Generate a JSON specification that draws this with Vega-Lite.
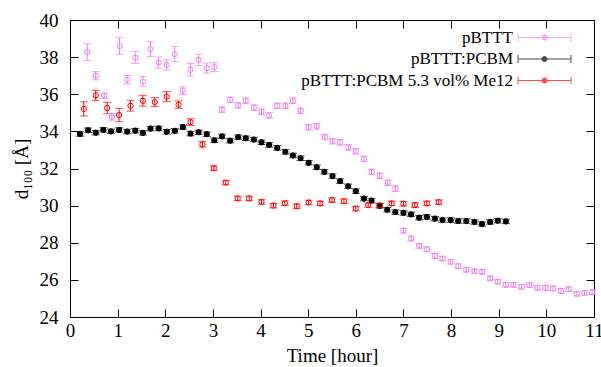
{
  "$schema": "https://vega.github.io/schema/vega-lite/v6.json",
  "width": 524,
  "height": 297,
  "autosize": {"type": "none"},
  "padding": {"left": 70, "top": 20, "right": 7, "bottom": 50},
  "background": "white",
  "config": {
    "view": {"stroke": "black", "strokeWidth": 1},
    "font": "'Liberation Serif', 'Times New Roman', serif",
    "style": {
      "guide-label": {"font": "'Liberation Serif', 'Times New Roman', serif", "fontSize": 19, "fill": "black"},
      "guide-title": {"font": "'Liberation Serif', 'Times New Roman', serif", "fontSize": 19, "fill": "black", "fontWeight": "normal"}
    },
    "axis": {
      "grid": false, "domain": false, "tickColor": "black", "tickWidth": 1,
      "labelColor": "black", "titleColor": "black", "labelFont": "'Liberation Serif', 'Times New Roman', serif",
      "titleFont": "'Liberation Serif', 'Times New Roman', serif", "labelFontSize": 19, "titleFontSize": 19,
      "titleFontWeight": "normal", "labelFlush": false, "labelOverlap": false
    },
    "legend": {
      "orient": "none", "legendX": 465, "legendY": 8, "padding": 0,
      "title": null,
      "symbolSize": 300, "symbolStrokeWidth": 1,
      "labelAlign": "right", "labelOffset": -41, "labelFontSize": 17,
      "labelFont": "'Liberation Serif', 'Times New Roman', serif", "labelColor": "black", "labelLimit": 400,
      "rowPadding": 3.5
    }
  },
  "data": {"values": [
    {"s": "pBTTT", "t": 0.36, "d": 38.27, "e": 0.45},
    {"s": "pBTTT", "t": 0.54, "d": 37.00, "e": 0.22},
    {"s": "pBTTT", "t": 0.72, "d": 35.92, "e": 0.15},
    {"s": "pBTTT", "t": 0.88, "d": 34.78, "e": 0.18},
    {"s": "pBTTT", "t": 1.04, "d": 38.60, "e": 0.45},
    {"s": "pBTTT", "t": 1.20, "d": 36.78, "e": 0.23},
    {"s": "pBTTT", "t": 1.37, "d": 37.98, "e": 0.32},
    {"s": "pBTTT", "t": 1.53, "d": 36.69, "e": 0.26},
    {"s": "pBTTT", "t": 1.69, "d": 38.43, "e": 0.40},
    {"s": "pBTTT", "t": 1.86, "d": 37.71, "e": 0.30},
    {"s": "pBTTT", "t": 2.03, "d": 37.58, "e": 0.27},
    {"s": "pBTTT", "t": 2.20, "d": 38.16, "e": 0.41},
    {"s": "pBTTT", "t": 2.37, "d": 36.19, "e": 0.21},
    {"s": "pBTTT", "t": 2.53, "d": 37.32, "e": 0.34},
    {"s": "pBTTT", "t": 2.70, "d": 37.85, "e": 0.30},
    {"s": "pBTTT", "t": 2.87, "d": 37.41, "e": 0.27},
    {"s": "pBTTT", "t": 3.03, "d": 37.46, "e": 0.24},
    {"s": "pBTTT", "t": 3.19, "d": 35.17, "e": 0.15},
    {"s": "pBTTT", "t": 3.36, "d": 35.70, "e": 0.15},
    {"s": "pBTTT", "t": 3.53, "d": 35.40, "e": 0.15},
    {"s": "pBTTT", "t": 3.69, "d": 35.65, "e": 0.15},
    {"s": "pBTTT", "t": 3.86, "d": 35.28, "e": 0.15},
    {"s": "pBTTT", "t": 4.02, "d": 35.06, "e": 0.15},
    {"s": "pBTTT", "t": 4.18, "d": 34.86, "e": 0.15},
    {"s": "pBTTT", "t": 4.35, "d": 35.38, "e": 0.15},
    {"s": "pBTTT", "t": 4.52, "d": 35.38, "e": 0.15},
    {"s": "pBTTT", "t": 4.68, "d": 35.65, "e": 0.15},
    {"s": "pBTTT", "t": 4.84, "d": 35.11, "e": 0.15},
    {"s": "pBTTT", "t": 5.01, "d": 34.22, "e": 0.15},
    {"s": "pBTTT", "t": 5.18, "d": 34.27, "e": 0.15},
    {"s": "pBTTT", "t": 5.35, "d": 33.70, "e": 0.15},
    {"s": "pBTTT", "t": 5.51, "d": 33.47, "e": 0.15},
    {"s": "pBTTT", "t": 5.67, "d": 33.41, "e": 0.15},
    {"s": "pBTTT", "t": 5.84, "d": 33.14, "e": 0.15},
    {"s": "pBTTT", "t": 6.00, "d": 32.93, "e": 0.15},
    {"s": "pBTTT", "t": 6.17, "d": 32.52, "e": 0.15},
    {"s": "pBTTT", "t": 6.33, "d": 31.82, "e": 0.15},
    {"s": "pBTTT", "t": 6.50, "d": 31.61, "e": 0.15},
    {"s": "pBTTT", "t": 6.67, "d": 31.23, "e": 0.15},
    {"s": "pBTTT", "t": 6.83, "d": 30.91, "e": 0.15},
    {"s": "pBTTT", "t": 7.00, "d": 28.65, "e": 0.13},
    {"s": "pBTTT", "t": 7.16, "d": 28.23, "e": 0.13},
    {"s": "pBTTT", "t": 7.33, "d": 27.83, "e": 0.13},
    {"s": "pBTTT", "t": 7.49, "d": 27.65, "e": 0.13},
    {"s": "pBTTT", "t": 7.66, "d": 27.30, "e": 0.13},
    {"s": "pBTTT", "t": 7.82, "d": 27.15, "e": 0.12},
    {"s": "pBTTT", "t": 7.99, "d": 26.97, "e": 0.12},
    {"s": "pBTTT", "t": 8.15, "d": 26.74, "e": 0.12},
    {"s": "pBTTT", "t": 8.32, "d": 26.54, "e": 0.12},
    {"s": "pBTTT", "t": 8.49, "d": 26.47, "e": 0.12},
    {"s": "pBTTT", "t": 8.65, "d": 26.43, "e": 0.12},
    {"s": "pBTTT", "t": 8.82, "d": 26.09, "e": 0.12},
    {"s": "pBTTT", "t": 8.98, "d": 25.90, "e": 0.12},
    {"s": "pBTTT", "t": 9.15, "d": 25.73, "e": 0.12},
    {"s": "pBTTT", "t": 9.31, "d": 25.73, "e": 0.12},
    {"s": "pBTTT", "t": 9.48, "d": 25.63, "e": 0.12},
    {"s": "pBTTT", "t": 9.64, "d": 25.72, "e": 0.12},
    {"s": "pBTTT", "t": 9.81, "d": 25.57, "e": 0.12},
    {"s": "pBTTT", "t": 9.98, "d": 25.57, "e": 0.12},
    {"s": "pBTTT", "t": 10.14, "d": 25.54, "e": 0.12},
    {"s": "pBTTT", "t": 10.31, "d": 25.41, "e": 0.12},
    {"s": "pBTTT", "t": 10.47, "d": 25.50, "e": 0.12},
    {"s": "pBTTT", "t": 10.64, "d": 25.25, "e": 0.12},
    {"s": "pBTTT", "t": 10.80, "d": 25.29, "e": 0.12},
    {"s": "pBTTT", "t": 10.96, "d": 25.33, "e": 0.12},
    {"s": "pBTTT:PCBM", "t": 0.21, "d": 33.86, "e": 0.12},
    {"s": "pBTTT:PCBM", "t": 0.38, "d": 34.06, "e": 0.12},
    {"s": "pBTTT:PCBM", "t": 0.54, "d": 33.93, "e": 0.12},
    {"s": "pBTTT:PCBM", "t": 0.70, "d": 34.08, "e": 0.12},
    {"s": "pBTTT:PCBM", "t": 0.86, "d": 34.00, "e": 0.12},
    {"s": "pBTTT:PCBM", "t": 1.03, "d": 34.08, "e": 0.12},
    {"s": "pBTTT:PCBM", "t": 1.20, "d": 33.99, "e": 0.12},
    {"s": "pBTTT:PCBM", "t": 1.37, "d": 34.04, "e": 0.12},
    {"s": "pBTTT:PCBM", "t": 1.53, "d": 33.92, "e": 0.12},
    {"s": "pBTTT:PCBM", "t": 1.69, "d": 34.15, "e": 0.12},
    {"s": "pBTTT:PCBM", "t": 1.86, "d": 34.16, "e": 0.12},
    {"s": "pBTTT:PCBM", "t": 2.03, "d": 33.98, "e": 0.12},
    {"s": "pBTTT:PCBM", "t": 2.20, "d": 34.03, "e": 0.12},
    {"s": "pBTTT:PCBM", "t": 2.37, "d": 34.23, "e": 0.12},
    {"s": "pBTTT:PCBM", "t": 2.53, "d": 33.88, "e": 0.12},
    {"s": "pBTTT:PCBM", "t": 2.70, "d": 33.95, "e": 0.12},
    {"s": "pBTTT:PCBM", "t": 2.87, "d": 33.85, "e": 0.12},
    {"s": "pBTTT:PCBM", "t": 3.03, "d": 33.52, "e": 0.12},
    {"s": "pBTTT:PCBM", "t": 3.19, "d": 33.73, "e": 0.12},
    {"s": "pBTTT:PCBM", "t": 3.36, "d": 33.50, "e": 0.12},
    {"s": "pBTTT:PCBM", "t": 3.53, "d": 33.69, "e": 0.12},
    {"s": "pBTTT:PCBM", "t": 3.69, "d": 33.63, "e": 0.12},
    {"s": "pBTTT:PCBM", "t": 3.86, "d": 33.56, "e": 0.12},
    {"s": "pBTTT:PCBM", "t": 4.02, "d": 33.41, "e": 0.12},
    {"s": "pBTTT:PCBM", "t": 4.18, "d": 33.27, "e": 0.12},
    {"s": "pBTTT:PCBM", "t": 4.35, "d": 33.11, "e": 0.12},
    {"s": "pBTTT:PCBM", "t": 4.52, "d": 32.90, "e": 0.12},
    {"s": "pBTTT:PCBM", "t": 4.68, "d": 32.70, "e": 0.12},
    {"s": "pBTTT:PCBM", "t": 4.84, "d": 32.55, "e": 0.12},
    {"s": "pBTTT:PCBM", "t": 5.01, "d": 32.31, "e": 0.12},
    {"s": "pBTTT:PCBM", "t": 5.18, "d": 32.07, "e": 0.12},
    {"s": "pBTTT:PCBM", "t": 5.34, "d": 31.82, "e": 0.12},
    {"s": "pBTTT:PCBM", "t": 5.51, "d": 31.59, "e": 0.12},
    {"s": "pBTTT:PCBM", "t": 5.67, "d": 31.32, "e": 0.12},
    {"s": "pBTTT:PCBM", "t": 5.84, "d": 31.04, "e": 0.12},
    {"s": "pBTTT:PCBM", "t": 6.00, "d": 30.78, "e": 0.12},
    {"s": "pBTTT:PCBM", "t": 6.17, "d": 30.38, "e": 0.12},
    {"s": "pBTTT:PCBM", "t": 6.33, "d": 30.27, "e": 0.12},
    {"s": "pBTTT:PCBM", "t": 6.50, "d": 29.99, "e": 0.12},
    {"s": "pBTTT:PCBM", "t": 6.66, "d": 29.78, "e": 0.12},
    {"s": "pBTTT:PCBM", "t": 6.83, "d": 29.65, "e": 0.12},
    {"s": "pBTTT:PCBM", "t": 7.00, "d": 29.61, "e": 0.12},
    {"s": "pBTTT:PCBM", "t": 7.16, "d": 29.53, "e": 0.12},
    {"s": "pBTTT:PCBM", "t": 7.33, "d": 29.35, "e": 0.12},
    {"s": "pBTTT:PCBM", "t": 7.49, "d": 29.39, "e": 0.12},
    {"s": "pBTTT:PCBM", "t": 7.66, "d": 29.30, "e": 0.12},
    {"s": "pBTTT:PCBM", "t": 7.82, "d": 29.22, "e": 0.12},
    {"s": "pBTTT:PCBM", "t": 7.99, "d": 29.22, "e": 0.12},
    {"s": "pBTTT:PCBM", "t": 8.15, "d": 29.17, "e": 0.12},
    {"s": "pBTTT:PCBM", "t": 8.32, "d": 29.17, "e": 0.12},
    {"s": "pBTTT:PCBM", "t": 8.49, "d": 29.12, "e": 0.12},
    {"s": "pBTTT:PCBM", "t": 8.65, "d": 29.01, "e": 0.12},
    {"s": "pBTTT:PCBM", "t": 8.82, "d": 29.12, "e": 0.12},
    {"s": "pBTTT:PCBM", "t": 8.98, "d": 29.19, "e": 0.12},
    {"s": "pBTTT:PCBM", "t": 9.15, "d": 29.15, "e": 0.12},
    {"s": "pBTTT:PCBM 5.3 vol% Me12", "t": 0.29, "d": 35.21, "e": 0.38},
    {"s": "pBTTT:PCBM 5.3 vol% Me12", "t": 0.54, "d": 35.94, "e": 0.27},
    {"s": "pBTTT:PCBM 5.3 vol% Me12", "t": 0.78, "d": 35.26, "e": 0.31},
    {"s": "pBTTT:PCBM 5.3 vol% Me12", "t": 1.03, "d": 34.88, "e": 0.36},
    {"s": "pBTTT:PCBM 5.3 vol% Me12", "t": 1.27, "d": 35.38, "e": 0.29},
    {"s": "pBTTT:PCBM 5.3 vol% Me12", "t": 1.53, "d": 35.65, "e": 0.29},
    {"s": "pBTTT:PCBM 5.3 vol% Me12", "t": 1.78, "d": 35.58, "e": 0.24},
    {"s": "pBTTT:PCBM 5.3 vol% Me12", "t": 2.03, "d": 35.87, "e": 0.27},
    {"s": "pBTTT:PCBM 5.3 vol% Me12", "t": 2.28, "d": 35.44, "e": 0.20},
    {"s": "pBTTT:PCBM 5.3 vol% Me12", "t": 2.53, "d": 34.50, "e": 0.18},
    {"s": "pBTTT:PCBM 5.3 vol% Me12", "t": 2.78, "d": 33.30, "e": 0.15},
    {"s": "pBTTT:PCBM 5.3 vol% Me12", "t": 3.02, "d": 32.02, "e": 0.12},
    {"s": "pBTTT:PCBM 5.3 vol% Me12", "t": 3.27, "d": 31.24, "e": 0.12},
    {"s": "pBTTT:PCBM 5.3 vol% Me12", "t": 3.52, "d": 30.39, "e": 0.12},
    {"s": "pBTTT:PCBM 5.3 vol% Me12", "t": 3.76, "d": 30.39, "e": 0.12},
    {"s": "pBTTT:PCBM 5.3 vol% Me12", "t": 4.02, "d": 30.20, "e": 0.12},
    {"s": "pBTTT:PCBM 5.3 vol% Me12", "t": 4.27, "d": 30.00, "e": 0.12},
    {"s": "pBTTT:PCBM 5.3 vol% Me12", "t": 4.51, "d": 30.13, "e": 0.12},
    {"s": "pBTTT:PCBM 5.3 vol% Me12", "t": 4.76, "d": 29.97, "e": 0.12},
    {"s": "pBTTT:PCBM 5.3 vol% Me12", "t": 5.01, "d": 30.17, "e": 0.12},
    {"s": "pBTTT:PCBM 5.3 vol% Me12", "t": 5.25, "d": 30.12, "e": 0.12},
    {"s": "pBTTT:PCBM 5.3 vol% Me12", "t": 5.50, "d": 30.30, "e": 0.12},
    {"s": "pBTTT:PCBM 5.3 vol% Me12", "t": 5.75, "d": 30.24, "e": 0.12},
    {"s": "pBTTT:PCBM 5.3 vol% Me12", "t": 6.00, "d": 29.84, "e": 0.12},
    {"s": "pBTTT:PCBM 5.3 vol% Me12", "t": 6.26, "d": 30.03, "e": 0.12},
    {"s": "pBTTT:PCBM 5.3 vol% Me12", "t": 6.50, "d": 30.01, "e": 0.12},
    {"s": "pBTTT:PCBM 5.3 vol% Me12", "t": 6.75, "d": 30.12, "e": 0.12},
    {"s": "pBTTT:PCBM 5.3 vol% Me12", "t": 7.00, "d": 30.10, "e": 0.12},
    {"s": "pBTTT:PCBM 5.3 vol% Me12", "t": 7.24, "d": 30.03, "e": 0.12},
    {"s": "pBTTT:PCBM 5.3 vol% Me12", "t": 7.49, "d": 30.12, "e": 0.12},
    {"s": "pBTTT:PCBM 5.3 vol% Me12", "t": 7.74, "d": 30.19, "e": 0.12}
  ]},
  "layer": [
    {
      "mark": {"type": "errorbar", "ticks": {"size": 8, "thickness": 1}, "thickness": 1},
      "encoding": {
        "x": {"field": "t", "type": "quantitative", "scale": {"domain": [0, 11], "nice": false, "zero": false},
          "axis": {"orient": "bottom", "values": [0,1,2,3,4,5,6,7,8,9,10,11], "tickSize": -8, "labelPadding": 12, "title": "Time [hour]", "titlePadding": 6,
            "labelFont": "Liberation Serif", "titleFont": "Liberation Serif", "labelFontSize": 19, "titleFontSize": 19, "titleFontWeight": "normal"}},
        "y": {"field": "d", "type": "quantitative", "scale": {"domain": [24, 40], "nice": false, "zero": false},
          "axis": {"orient": "left", "values": [24,26,28,30,32,34,36,38,40], "tickSize": -8, "labelPadding": 20, "title": "d₁₀₀ [Å]", "titlePadding": 8,
            "labelFont": "Liberation Serif", "titleFont": "Liberation Serif", "labelFontSize": 19, "titleFontSize": 19, "titleFontWeight": "normal"}},
        "yError": {"field": "e"},
        "color": {"field": "s", "type": "nominal",
          "scale": {"domain": ["pBTTT", "pBTTT:PCBM", "pBTTT:PCBM 5.3 vol% Me12"], "range": ["#ee82ee", "#000000", "#ff0000"]},
          "legend": {"symbolType": "M-3.06,0H3.06M-3.06,-0.46V0.46M3.06,-0.46V0.46M-0.3,0A0.3,0.3 0 1,0 0.3,0A0.3,0.3 0 1,0 -0.3,0Z"}}
      }
    },
    {
      "mark": {"type": "point", "shape": "circle", "size": 28, "strokeWidth": 1, "opacity": 1},
      "encoding": {
        "x": {"field": "t", "type": "quantitative",
          "axis": {"orient": "top", "values": [0,1,2,3,4,5,6,7,8,9,10,11], "tickSize": -8, "labels": false, "title": null}},
        "y": {"field": "d", "type": "quantitative",
          "axis": {"orient": "right", "values": [24,26,28,30,32,34,36,38,40], "tickSize": -8, "labels": false, "title": null}},
        "stroke": {"field": "s", "type": "nominal",
          "scale": {"domain": ["pBTTT", "pBTTT:PCBM", "pBTTT:PCBM 5.3 vol% Me12"], "range": ["#ee82ee", "#000000", "#ff0000"]},
          "legend": {"symbolType": "M-3.06,0H3.06M-3.06,-0.46V0.46M3.06,-0.46V0.46M-0.3,0A0.3,0.3 0 1,0 0.3,0A0.3,0.3 0 1,0 -0.3,0Z"}},
        "fill": {"field": "s", "type": "nominal",
          "scale": {"domain": ["pBTTT", "pBTTT:PCBM", "pBTTT:PCBM 5.3 vol% Me12"], "range": ["rgba(255,255,255,0)", "#000000", "rgba(255,255,255,0)"]},
          "legend": {"symbolType": "M-3.06,0H3.06M-3.06,-0.46V0.46M3.06,-0.46V0.46M-0.3,0A0.3,0.3 0 1,0 0.3,0A0.3,0.3 0 1,0 -0.3,0Z"}}
      }
    }
  ],
  "resolve": {"axis": {"x": "independent", "y": "independent"}}
}
